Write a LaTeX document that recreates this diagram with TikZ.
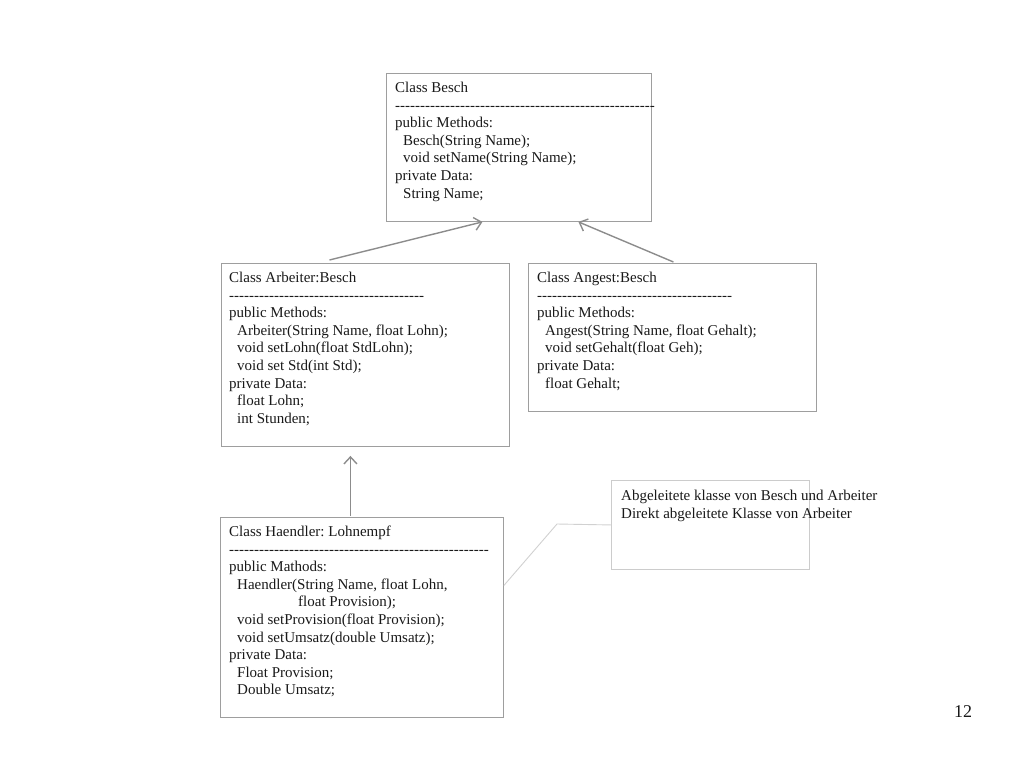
\documentclass[tikz,border=0pt]{standalone}
\usepackage{fontspec}
\setmainfont{Liberation Serif}
\usetikzlibrary{arrows.meta,calc}
\frenchspacing
\begin{document}
\begin{tikzpicture}[x=1pt,y=-1pt,
  classbox/.style={draw=black!38, line width=0.9pt, inner sep=0pt, anchor=north west},
  notebox/.style={draw=black!20, line width=0.9pt, inner sep=0pt, anchor=north west},
  txt/.style={anchor=north west, inner sep=0pt, align=left, font=\fontsize{15}{17.6}\selectfont\frenchspacing, text=black!90},
  inherit/.style={draw=black!45, line width=1.4pt, -{Straight Barb[length=7pt,width=13pt]}},
  callout/.style={draw=black!18, line width=0.9pt}
]
\useasboundingbox (0,0) rectangle (1024,768);
\newcommand{\ind}{\hspace*{8pt}}
\newcommand{\dashline}[1]{\foreach \k in {1,...,#1}{-\kern0pt}}
% boxes
\node[classbox, minimum width=265pt, minimum height=148pt] (besch) at (386,73) {};
\node[classbox, minimum width=288pt, minimum height=183pt] (arbeiter) at (221,263) {};
\node[classbox, minimum width=288pt, minimum height=148pt] (angest) at (528,263) {};
\node[classbox, minimum width=283pt, minimum height=200pt] (haendler) at (220,517) {};
\node[notebox, minimum width=198pt, minimum height=89pt] (note) at (611,480) {};
% texts
\node[txt] (tbesch) at ([shift={(9,7)}]besch.north west) {\strut Class Besch\\
\dashline{52}\\
public Methods:\\
\ind Besch(String Name);\\
\ind void setName(String Name);\\
private Data:\\
\ind String Name;};
\node[txt] (tarbeiter) at ([shift={(8,7)}]arbeiter.north west) {\strut Class Arbeiter:Besch\\
\dashline{39}\\
public Methods:\\
\ind Arbeiter(String Name, float Lohn);\\
\ind void setLohn(float StdLohn);\\
\ind void set Std(int Std);\\
private Data:\\
\ind float Lohn;\\
\ind int Stunden;};
\node[txt] (tangest) at ([shift={(9,7)}]angest.north west) {\strut Class Angest:Besch\\
\dashline{39}\\
public Methods:\\
\ind Angest(String Name, float Gehalt);\\
\ind void setGehalt(float Geh);\\
private Data:\\
\ind float Gehalt;};
\node[txt] (thaendler) at ([shift={(9,7)}]haendler.north west) {\strut Class Haendler: Lohnempf\\
\dashline{52}\\
public Mathods:\\
\ind Haendler(String Name, float Lohn,\\
\hspace*{69pt}float Provision);\\
\ind void setProvision(float Provision);\\
\ind void setUmsatz(double Umsatz);\\
private Data:\\
\ind Float Provision;\\
\ind Double Umsatz;};
\node[txt] (tnote) at ([shift={(10,8)}]note.north west) {\strut Abgeleitete klasse von Besch und Arbeiter\\
Direkt abgeleitete Klasse von Arbeiter};
\node[anchor=center, inner sep=0pt, font=\fontsize{18}{20}\selectfont, text=black!90] (page) at (963,712) {12};
% connectors
\draw[inherit] ([shift={(-36,-3)}]arbeiter.north) -- ([xshift=-36.5]besch.south);
\draw[inherit] ([shift={(1,-1)}]angest.north) -- ([xshift=59.5]besch.south);
\draw[inherit] ([shift={(-11.5,-1)}]haendler.north) -- ([shift={(-15,9)}]arbeiter.south);
\coordinate (bend) at (557,524);
\draw[callout] ([yshift=32]haendler.east) -- (bend) -- (note.west);
\end{tikzpicture}
\end{document}
